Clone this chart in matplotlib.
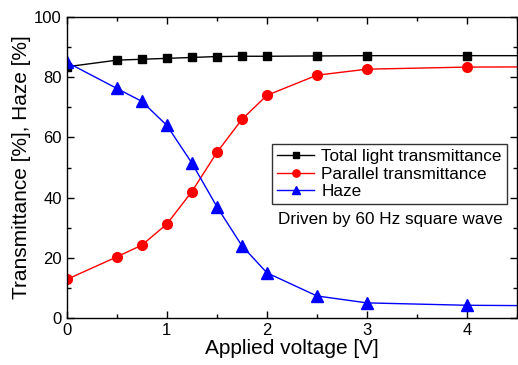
import numpy as np
import matplotlib.pyplot as plt
from matplotlib.ticker import MultipleLocator

plt.rcParams['font.family'] = ['Liberation Sans', 'DejaVu Sans']

# --- Data -----------------------------------------------------------------
voltage = [0, 0.5, 0.75, 1, 1.25, 1.5, 1.75, 2, 2.5, 3, 4, 5]
total_t = [83.5, 85.7, 86.0, 86.3, 86.6, 86.9, 87.0, 87.0, 87.1, 87.2, 87.2, 87.2]
parallel_t = [12.8, 20.3, 24.2, 31.2, 42.0, 55.0, 66.0, 74.0, 80.7, 82.7, 83.4, 83.5]
haze = [85.0, 76.3, 72.0, 64.0, 51.5, 37.0, 24.0, 15.0, 7.3, 5.0, 4.2, 4.0]

# --- Plot -----------------------------------------------------------------
fig = plt.figure(figsize=(5.18, 3.65), dpi=100)
ax = fig.add_axes([0.129, 0.129, 0.869, 0.824])

ax.plot(voltage, total_t, "-s", color="black", lw=1, ms=6, label="Total light transmittance")
ax.plot(voltage, parallel_t, "-o", color="red", lw=1, ms=7, label="Parallel transmittance")
ax.plot(voltage, haze, "-^", color="blue", lw=1, ms=8, label="Haze")

ax.set_xlim(0, 4.5)
ax.set_ylim(0, 100)
ax.xaxis.set_major_locator(MultipleLocator(1))
ax.xaxis.set_minor_locator(MultipleLocator(0.5))
ax.yaxis.set_major_locator(MultipleLocator(20))
ax.yaxis.set_minor_locator(MultipleLocator(10))
ax.tick_params(which="both", direction="in", top=True, right=True, labelsize=12, width=1)
ax.tick_params(which="major", length=5)
ax.tick_params(which="minor", length=3)
for s in ax.spines.values():
    s.set_linewidth(1)

ax.set_xlabel("Applied voltage [V]", fontsize=15, labelpad=1)
ax.set_ylabel("Transmittance [%], Haze [%]", fontsize=15, labelpad=2)

leg = ax.legend(loc="upper left", bbox_to_anchor=(0.455, 0.578), fontsize=12.3,
                frameon=True, fancybox=False, edgecolor="black", handlelength=2.2,
                borderpad=0.3, labelspacing=0.15, handletextpad=0.4, borderaxespad=0,
                markerscale=0.75)
leg.get_frame().set_linewidth(1)
ax.text(0.718, 0.326, "Driven by 60 Hz square wave", transform=ax.transAxes,
        ha="center", va="center", fontsize=12.3)

fig.savefig("out.png", dpi=100)
